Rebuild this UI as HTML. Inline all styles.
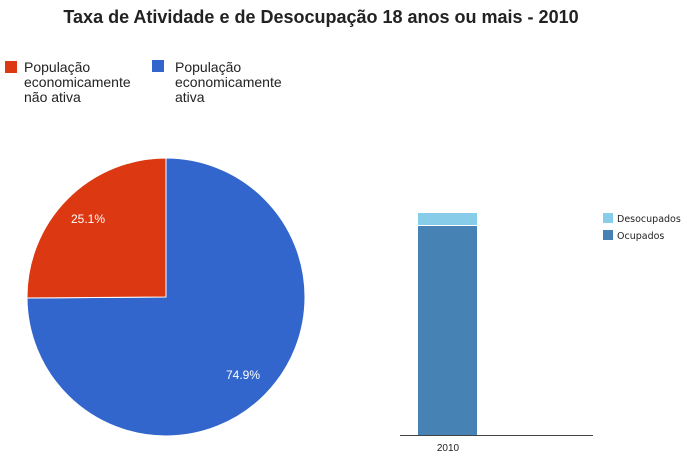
<!DOCTYPE html>
<html><head><style>body{margin:0;background:#fff;width:687px;height:456px;overflow:hidden}</style></head><body>
<svg width="687" height="456" xmlns="http://www.w3.org/2000/svg" style="display:block">
<text x="321" y="23" text-anchor="middle" font-family="Liberation Sans, sans-serif" font-weight="bold" font-size="18" fill="#222">Taxa de Atividade e de Desocupação 18 anos ou mais - 2010</text>
<rect x="5" y="61" width="12" height="12" fill="#dc3912"/>
<text font-family="Liberation Sans, sans-serif" font-size="14" fill="#222"><tspan x="24" y="72">População</tspan><tspan x="24" y="87">economicamente</tspan><tspan x="24" y="102">não ativa</tspan></text>
<rect x="152" y="60" width="12" height="12" fill="#3366cc"/>
<text font-family="Liberation Sans, sans-serif" font-size="14" fill="#222"><tspan x="175" y="72">População</tspan><tspan x="175" y="87">economicamente</tspan><tspan x="175" y="102">ativa</tspan></text>
<path d="M166,297 L166,158 A139,139 0 1,1 27,298 Z" fill="#3366cc" stroke="#fff" stroke-width="1"/>
<path d="M166,297 L27,298 A139,139 0 0,1 166,158 Z" fill="#dc3912" stroke="#fff" stroke-width="1"/>
<text x="88" y="223" text-anchor="middle" font-family="Liberation Sans, sans-serif" font-size="12" fill="#fff">25.1%</text>
<text x="243" y="379" text-anchor="middle" font-family="Liberation Sans, sans-serif" font-size="12" fill="#fff">74.9%</text>
<rect x="418" y="213" width="59" height="12" fill="#87cdea"/>
<rect x="418" y="226" width="59" height="209" fill="#4682b4"/>
<line x1="400" y1="435.5" x2="593" y2="435.5" stroke="#444" stroke-width="1"/>
<text x="448" y="451" text-anchor="middle" font-family="Liberation Sans, sans-serif" font-size="10" fill="#222">2010</text>
<rect x="603" y="213" width="10" height="10" fill="#87cdea"/>
<rect x="603" y="230" width="10" height="10" fill="#4682b4"/>
<text x="617" y="222" font-family="DejaVu Sans, sans-serif" font-size="9.5" letter-spacing="0" fill="#222">Desocupados</text>
<text x="617" y="239" font-family="DejaVu Sans, sans-serif" font-size="9.5" letter-spacing="0" fill="#222">Ocupados</text>
</svg>
</body></html>
